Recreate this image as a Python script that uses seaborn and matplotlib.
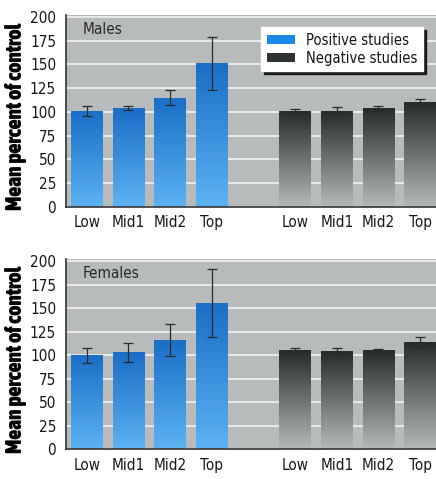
import numpy as np
import pandas as pd
import matplotlib
matplotlib.use("Agg")
import matplotlib.pyplot as plt
from matplotlib import font_manager
import seaborn as sns

levels = ["Low", "Mid1", "Mid2", "Top"]
studies = ["Positive studies", "Negative studies"]

males_pos = [101, 104, 115, 151]
males_pos_err = [5, 2, 8, 28]
males_neg = [101, 101, 104, 110]
males_neg_err = [2, 4, 2, 3.5]

females_pos = [100, 103, 116, 155]
females_pos_err = [8, 10, 17, 36]
females_neg = [105, 104, 105, 114]
females_neg_err = [3, 4, 2, 5]

panels = ["Males", "Females"]

sns.set_style("white")
plt.rcParams["font.family"] = ["DejaVu Sans"]


def as_weight(w):
    if isinstance(w, str):
        return font_manager.weight_dict.get(w, 400)
    return int(w)


def is_narrow(f):
    txt = (f.name + " " + f.fname).lower()
    return ("narrow" in txt or "condensed" in txt or "cond" in txt
            or f.stretch in ("condensed", "semi-condensed", "extra-condensed"))


# condensed faces, the original uses a condensed grotesque
narrow = [f for f in font_manager.fontManager.ttflist
          if is_narrow(f) and f.style == "normal"]
regular = sorted([f for f in narrow if as_weight(f.weight) in (400, 500)],
                 key=lambda f: abs(as_weight(f.weight) - 400))
bold = sorted([f for f in narrow if as_weight(f.weight) >= 700],
              key=lambda f: -as_weight(f.weight))


def fprop(lst, size, fallback_weight):
    if lst:
        return font_manager.FontProperties(fname=lst[0].fname, size=size)
    return font_manager.FontProperties(family="DejaVu Sans", size=size,
                                       weight=fallback_weight)


BG = "#b7bbbb"
BLUE_TOP, BLUE_BOT = "#1a6ec6", "#5cb2f2"
DARK_TOP, DARK_BOT = "#262b2b", "#b4b8b8"
TXT = "#161616"


def make_df(pos, pos_err, neg, neg_err):
    rows = []
    for i, lv in enumerate(levels):
        rows.append({"x": i, "level": lv, "study": studies[0], "mean": pos[i], "err": pos_err[i]})
    for i, lv in enumerate(levels):
        rows.append({"x": i + 5, "level": lv, "study": studies[1], "mean": neg[i], "err": neg_err[i]})
    return pd.DataFrame(rows)


def gradient_fill(ax, patch, top, bot):
    x0, y0 = patch.get_x(), patch.get_y()
    w, h = patch.get_width(), patch.get_height()
    c1 = np.array(matplotlib.colors.to_rgb(top))
    c2 = np.array(matplotlib.colors.to_rgb(bot))
    t = np.linspace(0, 1, 64)[:, None]
    img = (c1 * (1 - t) + c2 * t)[:, None, :]
    im = ax.imshow(img, extent=[x0, x0 + w, y0, y0 + h], origin="upper",
                   aspect="auto", zorder=2, interpolation="bilinear")
    im.set_clip_path(patch)
    patch.set_alpha(0)


fig = plt.figure(figsize=(4.36, 4.79), dpi=100)
ax_top = fig.add_axes([0.151, 0.568, 0.849, 0.401])
ax_bot = fig.add_axes([0.151, 0.062, 0.849, 0.397])

data = [
    make_df(males_pos, males_pos_err, males_neg, males_neg_err),
    make_df(females_pos, females_pos_err, females_neg, females_neg_err),
]

tick_fp = fprop(regular, 11, "normal")
label_fp = fprop(bold, 15.5, "heavy")

for ax, df, name in zip([ax_top, ax_bot], data, panels):
    ax.set_facecolor(BG)
    sns.barplot(data=df, x="x", y="mean", hue="study", hue_order=studies,
                palette=[BLUE_TOP, DARK_TOP], native_scale=True, dodge=False,
                width=0.76, errorbar=None, legend=False, ax=ax, zorder=2)
    bars = [p for p in ax.patches if p.get_height() > 0]
    bars.sort(key=lambda p: p.get_x())
    for k, p in enumerate(bars):
        if k < 4:
            gradient_fill(ax, p, BLUE_TOP, BLUE_BOT)
        else:
            gradient_fill(ax, p, DARK_TOP, DARK_BOT)
    ax.errorbar(df["x"], df["mean"], yerr=df["err"], fmt="none",
                ecolor="#2a2a2a", elinewidth=0.9, capsize=3.5, capthick=0.9, zorder=4)

    ax.set_xlim(-0.5, 8.38)
    ax.set_ylim(0, 202)
    ax.set_yticks(range(0, 201, 25))
    ax.yaxis.grid(True, color="white", linewidth=1.1, alpha=0.9)
    ax.set_axisbelow(True)
    ax.set_xticks(df["x"])
    ax.set_xticklabels(df["level"])
    ax.tick_params(axis="both", length=0, colors=TXT)
    ax.tick_params(axis="x", pad=6)
    ax.tick_params(axis="y", pad=7)
    for lab in ax.get_xticklabels() + ax.get_yticklabels():
        lab.set_fontproperties(tick_fp)
    for s in ["top", "right"]:
        ax.spines[s].set_visible(False)
    for s in ["left", "bottom"]:
        ax.spines[s].set_color("#333333")
        ax.spines[s].set_linewidth(1.2)
    ax.set_xlabel("")
    ax.set_ylabel("Mean percent of control", fontproperties=label_fp, color="black")
    ax.yaxis.set_label_coords(-0.105, 0.47)
    ax.text(0.045, 0.965, name, transform=ax.transAxes, fontproperties=tick_fp,
            color="#2a2a2a", va="top", ha="left")

handles = [matplotlib.patches.Patch(facecolor="#1e88e8", edgecolor="none"),
           matplotlib.patches.Patch(facecolor="#2e3333", edgecolor="none")]
leg = ax_top.legend(handles, studies, loc="upper right", bbox_to_anchor=(0.965, 0.9375),
                    frameon=True, fancybox=False, shadow={"color": "#1a1a1a", "alpha": 1},
                    facecolor="white", edgecolor="white", framealpha=1,
                    prop=fprop(regular, 10.5, "normal"), handlelength=1.9, handleheight=0.5,
                    borderpad=0.4, borderaxespad=0, labelspacing=0.2, handletextpad=0.75)
for t in leg.get_texts():
    t.set_color(TXT)

fig.savefig("out.png", dpi=100)
